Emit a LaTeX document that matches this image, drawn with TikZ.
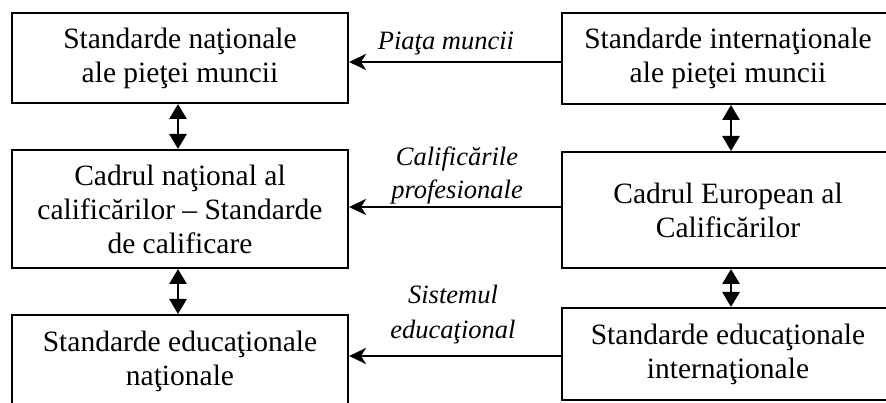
\documentclass[tikz,border=0pt]{standalone}
\usepackage{fontspec}
\setmainfont{Liberation Serif}
\usetikzlibrary{arrows.meta}
\begin{document}
\begin{tikzpicture}[x=1pt,y=-1pt,
  box/.style={draw, line width=2pt, inner sep=0pt, align=center,
    font=\fontsize{29.5}{34}\selectfont},
  lbl/.style={inner sep=0pt, align=center,
    font=\fontsize{26.5}{33}\selectfont\itshape},
  harrow/.style={line width=2.8pt, -{Stealth[length=17pt,width=16pt,inset=5pt]}},
  varrow/.style={line width=2.8pt,
    {Triangle[length=15pt,width=17pt]}-{Triangle[length=15pt,width=17pt]}},
]
\useasboundingbox (0,0) rectangle (886,403);
\clip (0,0) rectangle (886,403);

% left column
\node[box, minimum width=336pt, minimum height=90pt]  (L1) at (180,58)    {Standarde naţionale\\ale pieţei muncii};
\node[box, minimum width=336pt, minimum height=118pt] (L2) at (180,209)   {Cadrul naţional al\\calificărilor – Standarde\\de calificare};
\node[box, minimum width=336pt, minimum height=93pt]  (L3) at (180,361.5) {Standarde educaţionale\\naţionale};

% right column
\node[box, minimum width=332pt, minimum height=91pt]  (R1) at (728,58.5)  {Standarde internaţionale\\ale pieţei muncii};
\node[box, minimum width=332pt, minimum height=116pt] (R2) at (728,210)   {Cadrul European al\\Calificărilor};
\node[box, minimum width=332pt, minimum height=92pt]  (R3) at (728,354)   {Standarde educaţionale\\internaţionale};

% labels
\node[lbl] (t1) at (446,43.2) {Piaţa muncii};
\node[lbl] (t2) at (457,175) {Calificările\\profesionale};
\node[lbl, font=\fontsize{26.5}{35}\selectfont\itshape] (t3) at (453,314.5) {Sistemul\\educaţional};

% helper coordinates
\coordinate (ya) at (0,62);
\coordinate (yb) at (0,207);
\coordinate (yc) at (0,356);
\coordinate (xl) at (178,0);
\coordinate (xr) at (731,0);

% horizontal arrows
\draw[harrow] (R1.west |- ya) -- (L1.east |- ya);
\draw[harrow] (R2.west |- yb) -- (L2.east |- yb);
\draw[harrow] (R3.west |- yc) -- (L3.east |- yc);

% vertical double arrows
\draw[varrow] (L1.south -| xl) -- (L2.north -| xl);
\draw[varrow] (L2.south -| xl) -- (L3.north -| xl);
\draw[varrow] (R1.south -| xr) -- (R2.north -| xr);
\draw[varrow] (R2.south -| xr) -- (R3.north -| xr);
\end{tikzpicture}
\end{document}
